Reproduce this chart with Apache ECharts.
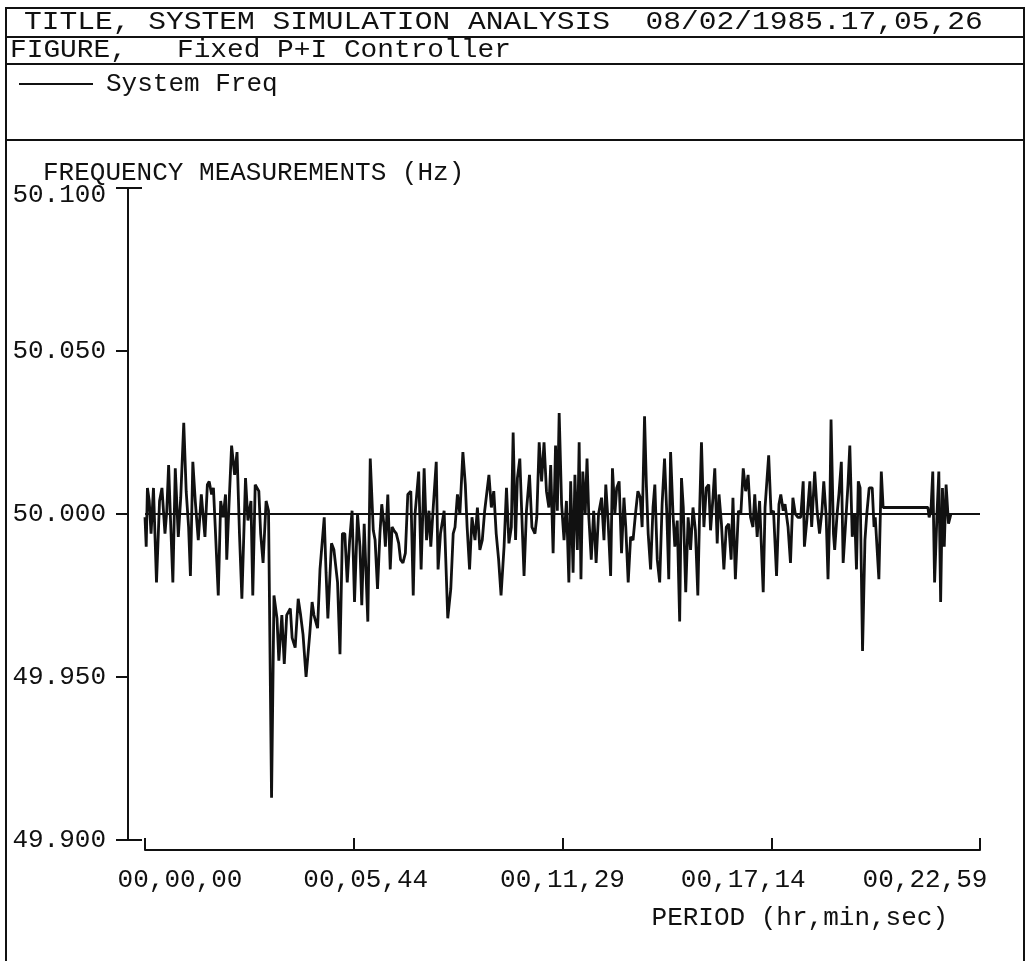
<!DOCTYPE html>
<html><head><meta charset="utf-8">
<script src="https://cdn.jsdelivr.net/npm/echarts@6/dist/echarts.min.js"></script>
<style>html,body{margin:0;padding:0;background:#fff}#c{width:1027px;height:961px}</style>
</head><body><div id="c"></div>
<script>
const headerTitle = "TITLE, SYSTEM SIMULATION ANALYSIS  08/02/1985.17,05,26";
const headerFigure = "FIGURE,   Fixed P+I Controller";
const seriesName = "System Freq";
const yAxisName = "FREQUENCY MEASUREMENTS (Hz)";
const xAxisName = "PERIOD (hr,min,sec)";
const xTickSeconds = [0, 344.75, 689.5, 1034.25, 1379];
const xTickLabels = ["00,00,00", "00,05,44", "00,11,29", "00,17,14", "00,22,59"];
const yTickValues = [49.9, 49.95, 50.0, 50.05, 50.1];
const yTickLabels = ["49.900", "49.950", "50.000", "50.050", "50.100"];
const referenceFreq = 50.0;

// [seconds from start, frequency in Hz]
const freqSegment1 = [
  [0,49.999],[2,49.990],[4,50.008],[7,50.004],[10,49.994],[14,50.008],[19,49.979],[24,50.004],[28,50.008],[33,49.994],
  [36,50.001],[39,50.015],[42,49.999],[46,49.979],[50,50.014],[55,49.993],[59,50.005],[64,50.028],[68,50.007],[72,49.996],
  [75,49.981],[79,50.016],[83,50.004],[88,49.992],[93,50.006],[99,49.993],[103,50.009],[106,50.010],[110,50.006],[113,50.008],
  [116,49.996],[121,49.975],[125,50.004],[129,49.999],[133,50.006],[135,49.986],[139,50.004],[143,50.021],[148,50.012],[152,50.019],
  [156,49.994],[160,49.974],[166,50.011],[170,49.998],[175,50.004],[178,49.975],[182,50.009],[188,50.007],[191,49.994],[195,49.985],
  [200,50.004],[204,50.001],[209,49.913]
];
const freqSegment2 = [
  [213,49.975],[218,49.968],[221,49.955],[226,49.969],[230,49.954],[234,49.969],[240,49.971],[243,49.962],[248,49.959],[253,49.974],
  [257,49.969],[261,49.963],[266,49.950],[272,49.963],[276,49.973],[279,49.969],[285,49.965],[289,49.983],[296,49.999],[299,49.982],
  [302,49.968],[308,49.991],[312,49.989],[318,49.979],[322,49.957],[326,49.994],[330,49.994],[334,49.979],[338,49.992],[342,50.001],
  [346,49.973],[351,50.000],[355,49.990],[358,49.972],[362,49.997],[368,49.967],[372,50.017],[377,49.995],[380,49.992],[384,49.977],
  [388,49.994],[391,50.003],[395,49.996],[397,49.990],[401,50.006],[405,49.983],[408,49.996],[411,49.995],[415,49.994],[419,49.991],
  [422,49.986],[426,49.985],[430,49.988],[434,50.006],[439,50.007],[443,49.975],[446,50.000],[452,50.013],[456,49.983],[461,50.014],
  [465,49.992],[469,50.001],[472,49.990],[476,50.002],[481,50.016],[484,49.983],[488,49.994],[494,50.001],[500,49.968],[505,49.977],
  [509,49.994],[512,49.996],[516,50.006],[520,50.000],[525,50.019],[529,50.009],[532,49.996],[536,49.983],[540,49.999],[545,49.992],
  [549,50.002]
];
const freqSegment3 = [
  [553,49.989],[557,49.992],[561,50.001],[568,50.012],[572,50.002],[576,50.007],[580,49.994],[584,49.986],[588,49.975],[593,49.990],
  [597,50.008],[601,49.991],[605,49.996],[608,50.025],[612,49.992],[615,50.011],[619,50.017],[623,49.996],[626,49.981],[630,50.001],
  [635,50.012],[639,49.996],[644,49.994],[647,49.999],[651,50.022],[655,50.010],[659,50.022],[663,50.007],[667,50.002],[670,50.015],
  [674,49.988],[678,50.021],[681,50.001],[684,50.031],[688,50.003],[692,49.992],[696,50.004],[700,49.979],[703,50.010],[707,49.982],
  [710,50.012],[714,49.989],[717,50.022],[720,49.980],[723,50.013],[727,50.000],[730,50.017],[733,49.999],[737,49.986],[741,50.001],
  [745,49.985],[749,50.000],[754,50.005],[758,49.992],[761,50.009],[765,49.997],[769,49.981],[772,50.014],[776,50.000],[779,50.008],
  [783,50.010],[787,49.988],[791,50.005],[794,49.996],[798,49.979],[802,49.993],[806,49.992],[810,50.000],[814,50.007],[818,50.005],
  [821,49.996],[825,50.030],[828,50.009],[831,49.994]
];
const freqSegment4 = [
  [835,49.983],[839,50.002],[842,50.009],[846,49.986],[850,49.979],[854,50.003],[858,50.017],[862,49.999],[865,49.980],[868,50.019],
  [872,50.000],[875,49.990],[879,49.998],[883,49.967],[886,50.011],[889,50.002],[893,49.976],[897,49.999],[901,49.989],[905,50.002],
  [909,49.995],[913,49.975],[916,50.001],[919,50.022],[923,49.996],[927,50.008],[931,50.009],[934,49.995],[938,50.005],[941,50.014],
  [945,49.991],[948,50.006],[952,49.997],[956,49.983],[960,49.996],[964,49.997],[968,49.986],[971,50.005],[975,49.980],[980,50.001],
  [984,50.000],[988,50.014],[992,50.007],[996,50.012],[1000,49.999],[1004,49.996],[1007,50.006],[1011,49.993],[1015,50.004],[1021,49.976],
  [1024,50.002],[1030,50.018],[1034,50.000],[1038,50.001],[1043,49.981],[1047,50.003],[1050,50.006],[1054,50.001],[1057,50.003],[1062,49.996],
  [1066,49.985],[1070,50.005],[1074,50.000],[1078,49.999],[1083,49.999],[1087,50.010],[1089,49.990],[1093,49.998],[1098,50.010],[1101,49.996],
  [1106,50.013],[1110,50.001]
];
const freqSegment5 = [
  [1114,49.994],[1118,50.001],[1121,50.010],[1125,49.999],[1128,49.980],[1131,50.001],[1133,50.029],[1137,49.994],[1139,49.989],[1143,50.000],
  [1146,50.006],[1150,50.016],[1153,49.985],[1158,50.000],[1161,50.009],[1164,50.021],[1168,49.993],[1172,50.000],[1175,49.983],[1178,50.010],
  [1181,50.008],[1185,49.958],[1189,49.992],[1192,50.000],[1196,50.008],[1201,50.008],[1204,49.996],[1206,49.999],[1212,49.980],[1216,50.013],
  [1219,50.002],[1293,50.002],[1295,49.999],[1298,50.001],[1301,50.013],[1304,49.979],[1308,50.000],[1311,50.013],[1314,49.973],[1317,50.008],
  [1320,49.990],[1323,50.009],[1327,49.997],[1331,50.000]
];
const freqSamples = [].concat(freqSegment1, freqSegment2, freqSegment3, freqSegment4, freqSegment5);

const FONT = '"Liberation Mono", "DejaVu Sans Mono", monospace';
const INK = '#111';

function nearestIndex(values, v) {
  let best = 0;
  for (let i = 1; i < values.length; i++) {
    if (Math.abs(values[i] - v) < Math.abs(values[best] - v)) best = i;
  }
  return Math.abs(values[best] - v) < 1e-4 ? best : -1;
}

// plotter label placement: the outer x labels sit pulled inwards
const xLabelRich = {
  x0: {padding: [0, 0, 0, 70]},
  x1: {padding: [0, 0, 0, 24]},
  x2: {padding: [0, 0, 0, 0]},
  x3: {padding: [0, 56, 0, 0]},
  x4: {padding: [0, 110, 0, 0]},
  ytop: {padding: [14, 0, 0, 0]}
};
Object.keys(xLabelRich).forEach(k => {
  xLabelRich[k].fontFamily = FONT; xLabelRich[k].fontSize = 26; xLabelRich[k].color = INK;
});

const chart = echarts.init(document.getElementById('c'), null, {renderer: 'canvas'});
chart.setOption({
  animation: false,
  backgroundColor: '#fff',
  textStyle: {fontFamily: FONT, color: INK},
  grid: {left: 145, right: 47, top: 188, bottom: 121, containLabel: false, outerBoundsMode: 'none'},
  legend: {
    left: 14, top: 66, itemWidth: 74, itemHeight: 2, icon: 'rect',
    data: [seriesName],
    itemStyle: {color: INK},
    textStyle: {fontFamily: FONT, fontSize: 26, color: INK, padding: [0, 0, 0, 8]}
  },
  graphic: [
    {type: 'rect', shape: {x: 6, y: 8, width: 1018, height: 990}, style: {fill: 'none', stroke: INK, lineWidth: 2}, silent: true},
    {type: 'line', shape: {x1: 6, y1: 37, x2: 1024, y2: 37}, style: {stroke: INK, lineWidth: 2}, silent: true},
    {type: 'line', shape: {x1: 6, y1: 64, x2: 1024, y2: 64}, style: {stroke: INK, lineWidth: 2}, silent: true},
    {type: 'line', shape: {x1: 6, y1: 140, x2: 1024, y2: 140}, style: {stroke: INK, lineWidth: 2}, silent: true},
    {type: 'text', x: 24, y: 22, scaleX: 1.138, style: {text: headerTitle, font: '26px ' + FONT, fill: INK, verticalAlign: 'middle'}, silent: true},
    {type: 'text', x: 10, y: 50, scaleX: 1.07, style: {text: headerFigure, font: '26px ' + FONT, fill: INK, verticalAlign: 'middle'}, silent: true}
  ],
  xAxis: [{
    type: 'value', min: 0, max: 1379, interval: 344.75, offset: 10,
    axisLine: {show: true, onZero: false, lineStyle: {color: INK, width: 2}},
    axisTick: {show: true, inside: true, length: 12, lineStyle: {color: INK, width: 2}},
    axisLabel: {show: true, margin: 17, fontFamily: FONT, fontSize: 26, color: INK,
      showMinLabel: true, showMaxLabel: true, rich: xLabelRich,
      formatter: v => { const i = nearestIndex(xTickSeconds, v); return i < 0 ? '' : '{x' + i + '|' + xTickLabels[i] + '}'; }},
    splitLine: {show: false},
    name: xAxisName, nameLocation: 'end', nameGap: -32,
    nameTextStyle: {fontFamily: FONT, fontSize: 26, color: INK, align: 'right', verticalAlign: 'top', padding: [55, 0, 0, 0]}
  }],
  yAxis: [{
    type: 'value', min: 49.9, max: 50.1, interval: 0.05, offset: 17, position: 'left',
    axisLine: {show: true, onZero: false, lineStyle: {color: INK, width: 2}},
    axisTick: {show: true, length: 12, lineStyle: {color: INK, width: 2}},
    axisLabel: {show: true, margin: 22, fontFamily: FONT, fontSize: 26, color: INK, rich: xLabelRich,
      formatter: v => { const i = nearestIndex(yTickValues, v); if (i < 0) return ''; return i === yTickValues.length - 1 ? '{ytop|' + yTickLabels[i] + '}' : yTickLabels[i]; }},
    splitLine: {show: false}
  }, {
    type: 'value', min: 49.9, max: 50.1, interval: 0.2, offset: 17, position: 'left',
    axisLine: {show: false, onZero: false},
    axisTick: {show: true, inside: true, length: 14, lineStyle: {color: INK, width: 2}},
    axisLabel: {show: false}, splitLine: {show: false}
  }, {
    type: 'value', min: 49.9, max: 50.1, offset: 102, position: 'left',
    axisLine: {show: false, onZero: false}, axisTick: {show: false}, axisLabel: {show: false}, splitLine: {show: false},
    name: yAxisName, nameLocation: 'end', nameGap: 2,
    nameTextStyle: {fontFamily: FONT, fontSize: 26, color: INK, align: 'left', verticalAlign: 'bottom'}
  }],
  series: [{
    name: seriesName, type: 'line', xAxisIndex: 0, yAxisIndex: 0,
    data: freqSamples, symbol: 'none', showSymbol: false,
    lineStyle: {color: INK, width: 2.8}, itemStyle: {color: INK},
    markLine: {
      silent: true, symbol: ['none', 'none'], label: {show: false},
      lineStyle: {color: INK, width: 2, type: 'solid'},
      data: [{yAxis: referenceFreq}]
    }
  }]
});
</script></body></html>
